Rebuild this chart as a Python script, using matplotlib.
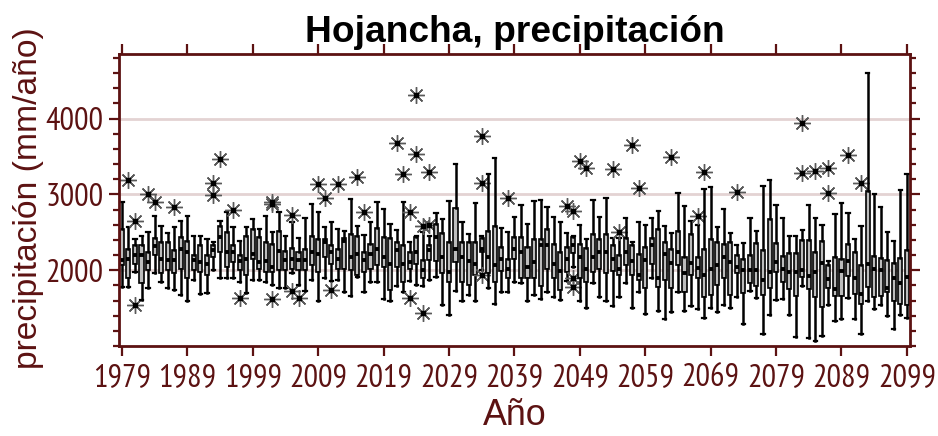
import matplotlib
matplotlib.use("Agg")
import matplotlib.pyplot as plt
from matplotlib.ticker import MultipleLocator, FixedLocator
from matplotlib import font_manager

# ---------------- data ----------------
years = list(range(1979, 2100))

whisker_hi = [2900, 2565, 2413, 2457, 2509, 2718, 2587, 2492, 2565, 2652, 2718, 2457, 2457, 2413, 2378, 2652, 2761, 2565, 2391, 2565,
              2674, 2544, 2718, 2500, 2761, 2457, 2630, 2422, 2683, 2870, 2761, 2565, 2630, 2544, 2522, 2935, 2587, 2465, 2630, 2900,
              2813, 2609, 2535, 2900, 2370, 2457, 2500, 2457, 2752, 2674, 2913, 3405, 2639, 2478, 2883, 2457, 3270, 3479, 2552, 2509,
              2696, 2857, 2609, 2914, 2927, 2835, 2696, 2639, 2492, 2457, 2596, 2405, 2927, 2696, 2957, 2422, 2422, 2683, 2378, 2639,
              2596, 2683, 2783, 2578, 2492, 3022, 2840, 2652, 2596, 3066, 3100, 2565, 2805, 2492, 2335, 2361, 2683, 2522, 3109, 3188,
              2861, 2687, 2457, 2457, 2526, 2861, 2687, 2600, 2122, 2744, 2883, 2752, 2413, 2587, 4600, 3004, 2831, 2500, 2383, 3057, 3265]

q3 = [2544, 2283, 2326, 2326, 2239, 2422, 2378, 2370, 2261, 2435, 2391, 2196, 2326, 2196, 2326, 2587, 2500, 2326, 2196, 2457,
      2544, 2435, 2378, 2348, 2522, 2248, 2291, 2239, 2283, 2457, 2413, 2413, 2326, 2283, 2422, 2478, 2457, 2239, 2348, 2552,
      2435, 2422, 2370, 2326, 2239, 2435, 2130, 2326, 2609, 2491, 2370, 2826, 2370, 2370, 2370, 2422, 2522, 2587, 2304, 2152,
      2435, 2435, 2305, 2413, 2413, 2544, 2348, 2239, 2305, 2435, 2348, 2291, 2479, 2413, 2479, 2335, 2196, 2422, 2326, 2218,
      2305, 2422, 2544, 2378, 2274, 2522, 2174, 2479, 2174, 2274, 2413, 2370, 2348, 2370, 2196, 2152, 2196, 2361, 2261, 2674,
      2352, 2187, 2222, 2230, 2396, 2404, 2239, 2383, 2065, 2178, 2152, 2339, 2239, 2065, 3048, 2187, 2165, 2135, 2100, 2165, 2265]

median = [2130, 2152, 2196, 2196, 2109, 2317, 2152, 2130, 2130, 2283, 2239, 2130, 2109, 2087, 2261, 2435, 2239, 2239, 2117, 2152,
          2217, 2109, 2117, 2043, 2248, 2130, 2152, 2130, 2130, 2239, 2217, 2370, 2239, 2152, 2391, 2174, 2217, 2130, 2217, 2283,
          2174, 2087, 2261, 2087, 2109, 2239, 2000, 2261, 2435, 2174, 1978, 2283, 2174, 2117, 2087, 2283, 2174, 2065, 2152, 2022,
          2283, 2239, 2044, 2109, 2326, 2335, 2087, 1987, 2152, 2326, 2174, 2022, 2174, 2239, 2239, 2152, 2013, 2239, 2117, 1935,
          2130, 2326, 1891, 2218, 2100, 2239, 1957, 2100, 2030, 1943, 2022, 2065, 2174, 2109, 2044, 2000, 2000, 2000, 1870, 1978,
          2109, 2013, 1970, 1970, 2004, 1926, 1970, 2100, 1883, 1752, 1991, 2122, 1891, 1687, 2078, 2022, 2004, 1761, 1891, 1830, 1904]

q1 = [2070, 1900, 2087, 1826, 2000, 2204, 1957, 2000, 1957, 2022, 1891, 2000, 1978, 1935, 2174, 2239, 2043, 2109, 2000, 1935,
      2152, 2022, 1978, 1978, 2000, 2000, 2022, 2000, 2000, 2065, 1978, 2174, 2087, 2022, 2013, 2000, 1935, 1978, 2022, 2065,
      2043, 1739, 2043, 1848, 2022, 2087, 1891, 2130, 2117, 1957, 1848, 2109, 1848, 1804, 1935, 2239, 1957, 1848, 1987, 1891,
      2152, 1891, 1891, 1891, 1796, 2022, 1891, 1739, 1978, 2231, 1891, 1848, 1978, 2022, 1957, 1987, 1935, 2065, 1935, 1870,
      1761, 2087, 1783, 1870, 1761, 2065, 1717, 1935, 1891, 1652, 1674, 1804, 1891, 1674, 1957, 1696, 1826, 1796, 1674, 1770,
      1970, 1848, 1752, 1657, 1904, 1752, 1643, 1513, 1761, 1665, 1657, 1926, 1687, 1557, 1774, 1643, 1657, 1709, 1600, 1557, 1535]

whisker_lo = [1783, 1783, 1978, 1608, 1761, 1957, 1839, 1761, 1739, 1674, 1595, 1870, 1683, 1696, 2000, 1900, 1891, 1891, 1848, 1696,
              1870, 1870, 1848, 1804, 1761, 1761, 1957, 1804, 1726, 1870, 1595, 1900, 1857, 1870, 1709, 1665, 1913, 1717, 1848, 1839,
              1622, 1595, 1796, 1717, 1857, 1804, 1796, 1870, 1913, 1535, 1413, 1726, 1595, 1674, 1587, 2000, 1761, 1552, 1717, 1717,
              1848, 1830, 1595, 1674, 1622, 1717, 1652, 1609, 1857, 2044, 1595, 1500, 1826, 1652, 1595, 1522, 1652, 1826, 1500, 1717,
              1422, 1900, 1457, 1361, 1448, 1717, 1465, 1522, 1491, 1370, 1500, 1448, 1543, 1500, 1652, 1291, 1726, 1639, 1152, 1413,
              1613, 1622, 1413, 1122, 1796, 1109, 1065, 1135, 1535, 1326, 1361, 1630, 1352, 1152, 1587, 1483, 1535, 1396, 1222, 1413, 1370]

outlier_years = [1980, 1981, 1981, 1983, 1984, 1987, 1993, 1993, 1994, 1996, 1997,
                 2002, 2002, 2002, 2005, 2005, 2006, 2009, 2010, 2011, 2012, 2015, 2016,
                 2021, 2022, 2023, 2023, 2024, 2024, 2025, 2025, 2026, 2026, 2034, 2034, 2034, 2038,
                 2047, 2048, 2048, 2048, 2049, 2050, 2054, 2055, 2057, 2058,
                 2063, 2067, 2068, 2073,
                 2083, 2083, 2085, 2087, 2087, 2090, 2092]
outlier_values = [3183, 2652, 1543, 3000, 2900, 2835, 3150, 2990, 3466, 2796, 1639,
                  2900, 2870, 1622, 2730, 1726, 1630, 3130, 2948, 1740, 3140, 3227, 2761,
                  3675, 3262, 2770, 1630, 4305, 3535, 2587, 1435, 3292, 2596, 3770, 3153, 1935, 2948,
                  2848, 2783, 1891, 1783, 3435, 3349, 3335, 2509, 3653, 3087,
                  3488, 2718, 3292, 3031,
                  3936, 3283, 3309, 3353, 3022, 3514, 3153]

xtick_labels = ["1979", "1989", "1999", "2009", "2019", "2029", "2039",
                "2049", "2059", "2069", "2079", "2089", "2099"]
ytick_values = [2000, 3000, 4000]

# ---------------- fonts ----------------
names = {f.name for f in font_manager.fontManager.ttflist}
narrow = "Liberation Sans"
for cand in ["Liberation Sans Narrow", "Arial Narrow", "Nimbus Sans Narrow",
             "PT Sans Narrow", "Pragati Narrow", "Archivo Narrow", "Roboto Condensed"]:
    if cand in names:
        narrow = cand
        break
plt.rcParams["font.family"] = [narrow, "DejaVu Sans"]
regular = ["Liberation Sans", "DejaVu Sans"]

maroon = "#5c1212"
fig = plt.figure(figsize=(9.38, 4.36), dpi=100)
ax = fig.add_axes([0.1268, 0.2064, 0.8432, 0.6696])

stats = []
for i, y in enumerate(years):
    fl = [v for yy, v in zip(outlier_years, outlier_values) if yy == y]
    stats.append(dict(med=median[i], q1=q1[i], q3=q3[i],
                      whislo=whisker_lo[i], whishi=whisker_hi[i], fliers=fl))

for g in ytick_values:
    ax.axhline(g, color="#e3d3d3", lw=2.0, zorder=0)

ax.bxp(stats, positions=years, widths=0.62, patch_artist=True,
       showfliers=True, capwidths=0.5,
       boxprops=dict(facecolor="#bcbcbc", edgecolor="black", linewidth=1.2),
       whiskerprops=dict(color="black", linewidth=1.8),
       capprops=dict(color="black", linewidth=1.6),
       medianprops=dict(color="black", linewidth=2.8, solid_capstyle="butt"),
       flierprops=dict(marker=(8, 2, 0), markersize=12, markeredgecolor="#5a5a5a",
                       markerfacecolor="none", markeredgewidth=1.0, linestyle="none"),
       manage_ticks=False)
ax.plot(outlier_years, outlier_values, linestyle="none", marker="s",
        markersize=2.8, color="black", zorder=5)

ax.set_xlim(1978.55, 2099.45)
ax.set_ylim(1000, 4850)
ax.xaxis.set_major_locator(FixedLocator(list(range(1979, 2100, 10))))
ax.set_xticklabels(xtick_labels)
ax.yaxis.set_major_locator(FixedLocator(ytick_values))
ax.yaxis.set_minor_locator(MultipleLocator(200))

for s in ax.spines.values():
    s.set_color(maroon)
    s.set_linewidth(2.0)
ax.tick_params(axis="both", which="both", direction="out", color=maroon,
               labelcolor=maroon, top=True, right=True, width=1.6)
ax.tick_params(axis="both", which="major", length=7.0, labelsize=20)
ax.tick_params(axis="x", which="major", pad=5.0)
ax.tick_params(axis="y", which="major", pad=4.0)
ax.tick_params(axis="y", which="minor", length=4.3)

ax.set_xlabel("Año", color=maroon, fontsize=24, family=regular)
ax.set_ylabel("precipitación (mm/año)", color=maroon, fontsize=24, family=regular)
title = ax.set_title("Hojancha, precipitación", fontsize=26, fontweight="bold",
                     color="black", pad=8.6, family=regular)

# --- fit text sizes to the reference widths (pixels) ---
fig.canvas.draw()
r = fig.canvas.get_renderer()
w = ax.get_xticklabels()[0].get_window_extent(r).width
ax.tick_params(axis="both", which="major", labelsize=20 * 58.0 / w)
w = title.get_window_extent(r).width
title.set_fontsize(26 * 418.0 / w)
yl = ax.yaxis.label
h = yl.get_window_extent(r).height
yl.set_fontsize(24 * 342.0 / h)
xl = ax.xaxis.label
w = xl.get_window_extent(r).width
xl.set_fontsize(24 * 64.0 / w)

# label placement (axes fraction; axes spans x 119..910, y 54..346 px)
ax.yaxis.set_label_coords((29 - 119) / 791.0, (346 - 198) / 292.0)
yl.set_ha("center"); yl.set_va("center"); yl.set_rotation_mode("default")
ax.xaxis.set_label_coords(0.5, -(416 - 346) / 292.0)
xl.set_ha("center"); xl.set_va("center")

fig.savefig("out.png", dpi=100)
